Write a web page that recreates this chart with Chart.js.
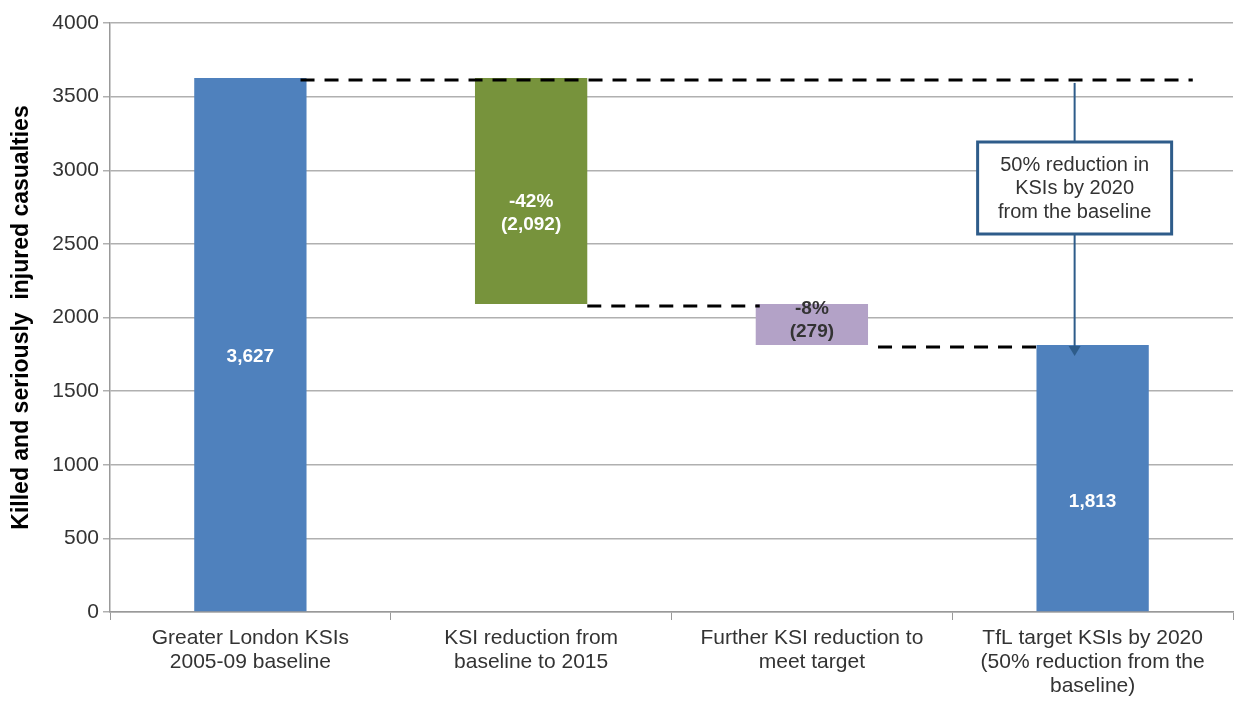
<!DOCTYPE html>
<html>
<head>
<meta charset="utf-8">
<script src="https://cdn.jsdelivr.net/npm/chart.js@4/dist/chart.umd.min.js"></script>
<style>
  html, body { margin: 0; padding: 0; background: #fff; }
  #wrap { width: 1235px; height: 704px; position: relative; }
</style>
</head>
<body>
<div id="wrap"><canvas id="c" width="1235" height="704"></canvas></div>
<script>
// Waterfall: KSI casualties in Greater London, baseline to 2020 target
const categories = [
  ["Greater London KSIs", "2005-09 baseline"],
  ["KSI reduction from", "baseline to 2015"],
  ["Further KSI reduction to", "meet target"],
  ["TfL target KSIs by 2020", "(50% reduction from the", "baseline)"]
];
const barLow  = [0, 2092, 1813, 0];
const barHigh = [3627, 3627, 2092, 1813];
const barText = [["3,627"], ["-42%", "(2,092)"], ["-8%", "(279)"], ["1,813"]];
const barColors = ["#4F81BD", "#77933C", "#B3A2C7", "#4F81BD"];
const barTextColors = ["#FFFFFF", "#FFFFFF", "#333333", "#FFFFFF"];
const yTicks = [0, 500, 1000, 1500, 2000, 2500, 3000, 3500, 4000];
const calloutText = ["50% reduction in", "KSIs by 2020", "from the baseline"];
const targetLevel = 1813;
const baselineLevel = 3627;

const FONT = "'Liberation Sans', Arial, sans-serif";

const extras = {
  id: 'waterfallExtras',
  afterDatasetsDraw(chart) {
    const ctx = chart.ctx;
    const y = chart.scales.y;
    const bars = chart.getDatasetMeta(0).data;
    const right = i => bars[i].x + bars[i].width / 2;
    const left = i => bars[i].x - bars[i].width / 2;

    // connector dashes between bars
    ctx.save();
    ctx.strokeStyle = '#000';
    ctx.lineWidth = 3;
    ctx.setLineDash([14, 10]);
    const dash = (x1, x2, v) => {
      const py = Math.round(y.getPixelForValue(v)) + 2;
      ctx.beginPath(); ctx.moveTo(x1, py); ctx.lineTo(x2, py); ctx.stroke();
    };
    dash(right(0) - 6, right(3) + 44, barHigh[0]);
    dash(right(1), left(2) + 4, barLow[1]);
    dash(right(2) + 10, left(3), barLow[2]);
    ctx.restore();

    // value labels inside bars
    const offsets = [12, 22, -4, 23];
    ctx.save();
    ctx.font = "bold 19px " + FONT;
    ctx.textAlign = 'center';
    ctx.textBaseline = 'middle';
    bars.forEach((b, i) => {
      const top = y.getPixelForValue(barHigh[i]);
      const bot = y.getPixelForValue(barLow[i]);
      const cy = (top + bot) / 2 + offsets[i];
      const lines = barText[i];
      const lh = 23;
      ctx.fillStyle = barTextColors[i];
      lines.forEach((t, k) => {
        ctx.fillText(t, b.x, cy + (k - (lines.length - 1) / 2) * lh);
      });
    });
    ctx.restore();

    // callout box with arrow down to the target bar
    const ax = bars[3].x - 18;
    const yStart = y.getPixelForValue(baselineLevel) + 5;
    const yEnd = y.getPixelForValue(targetLevel) + 11;
    const boxL = ax - 97, boxR = ax + 97, boxT = 142, boxB = 234;
    ctx.save();
    ctx.strokeStyle = '#2E5C8A';
    ctx.fillStyle = '#2E5C8A';
    ctx.lineWidth = 2;
    ctx.beginPath(); ctx.moveTo(ax, yStart); ctx.lineTo(ax, boxT); ctx.stroke();
    ctx.beginPath(); ctx.moveTo(ax, boxB); ctx.lineTo(ax, yEnd - 8); ctx.stroke();
    ctx.beginPath();
    ctx.moveTo(ax - 6, yEnd - 10); ctx.lineTo(ax + 6, yEnd - 10); ctx.lineTo(ax, yEnd);
    ctx.closePath(); ctx.fill();
    ctx.fillStyle = '#fff';
    ctx.fillRect(boxL, boxT, boxR - boxL, boxB - boxT);
    ctx.lineWidth = 3;
    ctx.strokeRect(boxL, boxT, boxR - boxL, boxB - boxT);
    ctx.fillStyle = '#333';
    ctx.font = "20px " + FONT;
    ctx.textAlign = 'center';
    ctx.textBaseline = 'middle';
    calloutText.forEach((t, k) => ctx.fillText(t, ax, 165 + k * 23.5));
    ctx.restore();
  }
};

new Chart(document.getElementById('c'), {
  type: 'bar',
  data: {
    labels: categories,
    datasets: [{
      data: barLow.map((lo, i) => [lo, barHigh[i]]),
      backgroundColor: barColors,
      borderWidth: 0,
      barPercentage: 0.4,
      categoryPercentage: 1.0
    }]
  },
  options: {
    responsive: false,
    animation: false,
    devicePixelRatio: 1,
    layout: { padding: { top: 23, right: 2, left: 8, bottom: 0 } },
    plugins: { legend: { display: false }, tooltip: { enabled: false } },
    scales: {
      x: {
        offset: true,
        grid: { display: true, drawOnChartArea: false, drawTicks: true, tickLength: 8, color: '#999', offset: true },
        border: { display: true, color: '#999', width: 1.5 },
        ticks: { color: '#333', font: { family: FONT, size: 21, lineHeight: 1.15 }, padding: 6, maxRotation: 0, autoSkip: false },
        afterFit(s) { s.height = 92; }
      },
      y: {
        min: 0, max: 4000,
        afterBuildTicks(s) { s.ticks = yTicks.map(v => ({ value: v })); },
        grid: { color: '#B0B0B0', lineWidth: 1.5, tickLength: 7, drawTicks: true },
        border: { display: true, color: '#999', width: 1.5 },
        ticks: { color: '#333', font: { family: FONT, size: 21 }, padding: 4, callback: v => String(v) },
        title: {
          display: true,
          text: 'Killed and seriously  injured casualties',
          color: '#000',
          font: { family: FONT, size: 23, weight: 'bold' },
          padding: { top: 0, bottom: 0 }
        },
        afterFit(s) { s.width = 102; }
      }
    }
  },
  plugins: [extras]
});
</script>
</body>
</html>
